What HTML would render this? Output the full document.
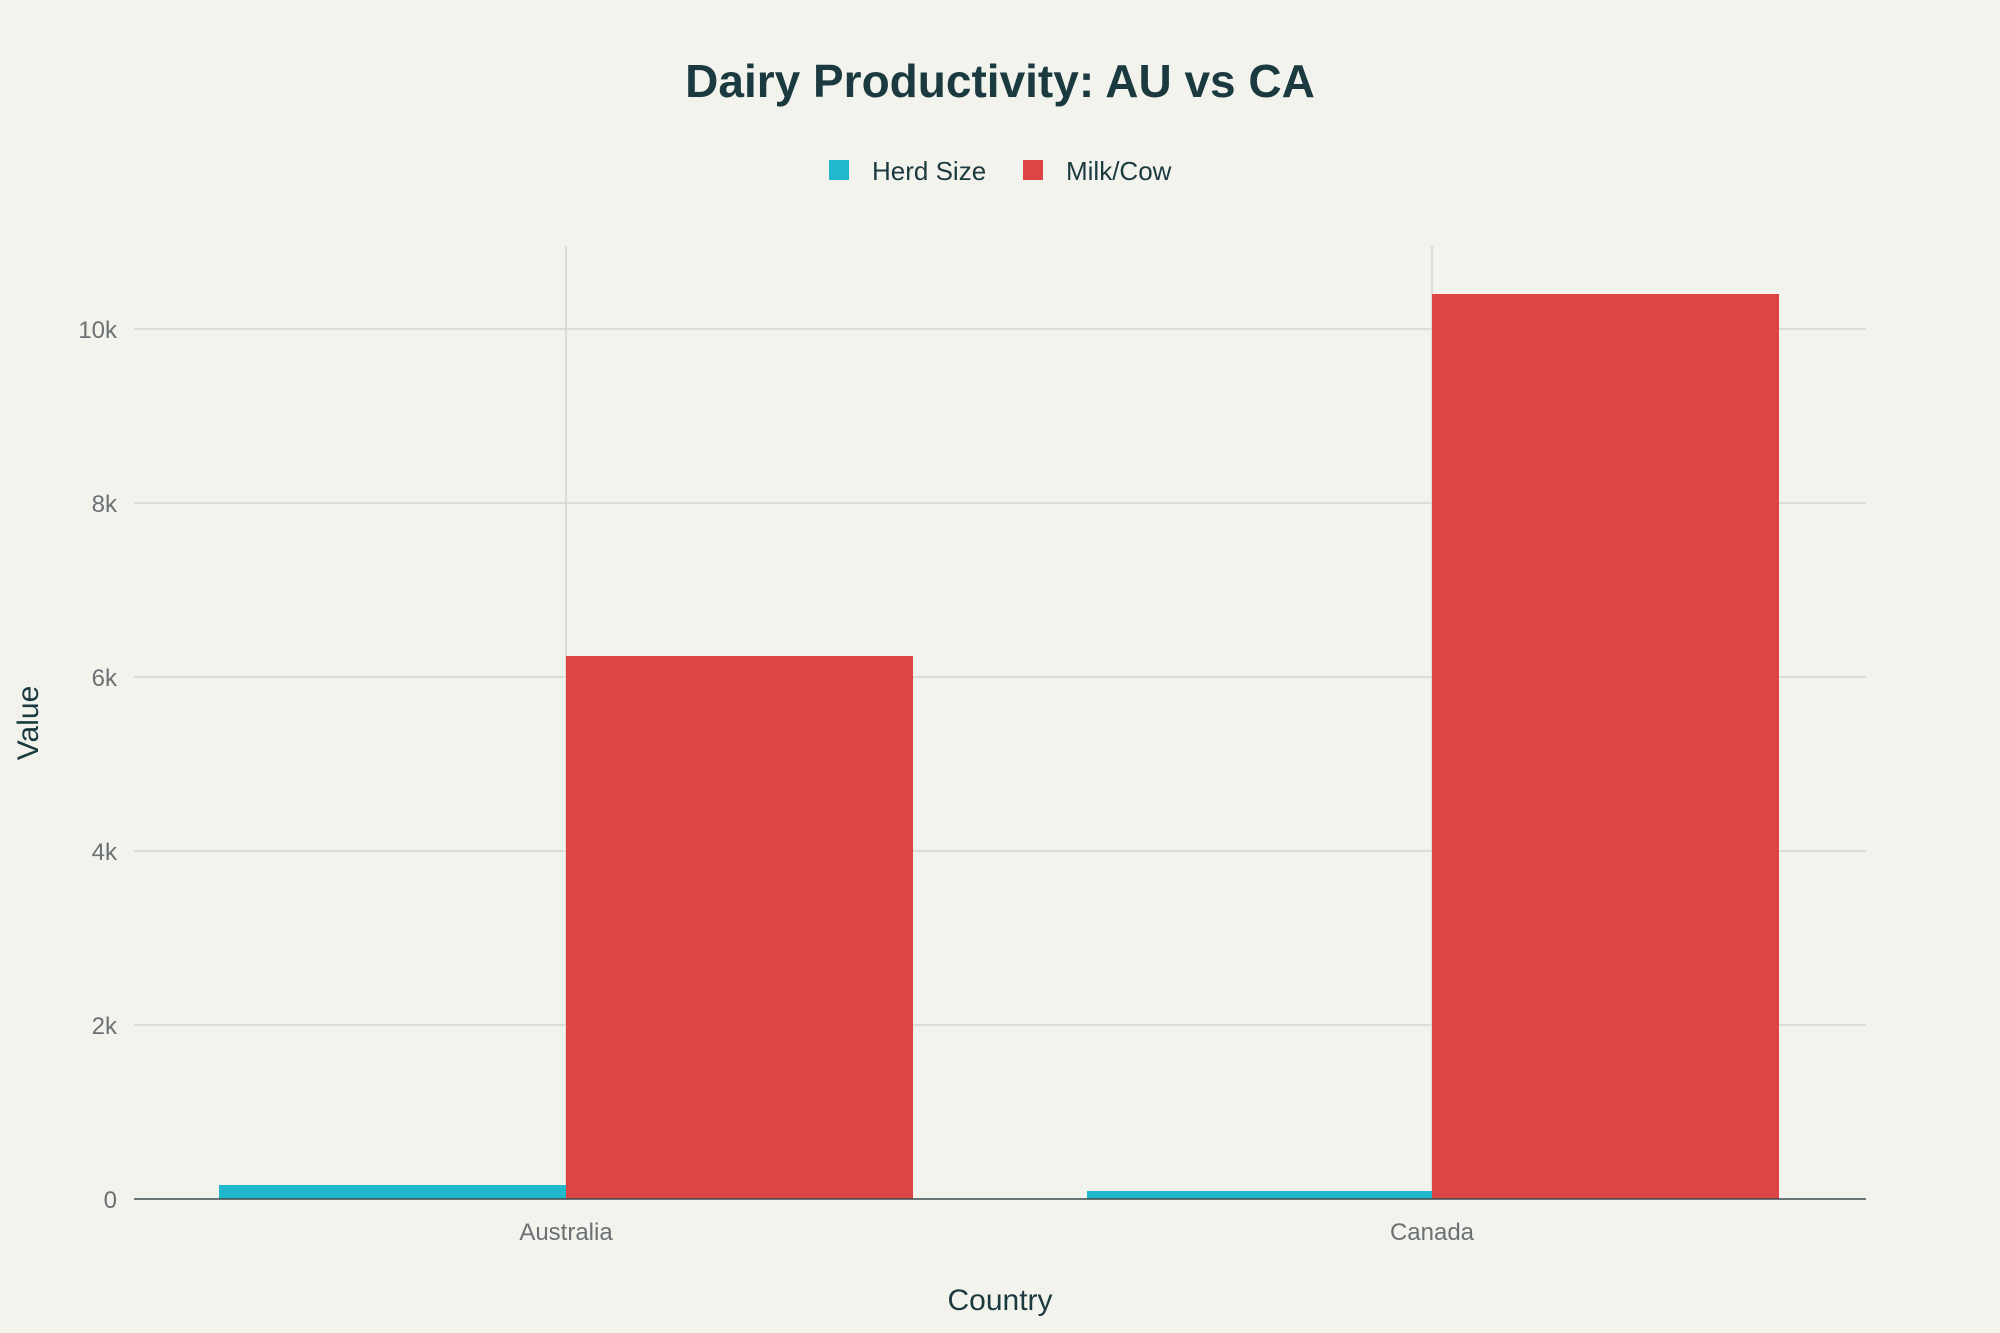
<!DOCTYPE html>
<html><head><meta charset="utf-8"><style>
html,body{margin:0;padding:0;background:#f3f3ee;}
svg{display:block;font-family:"Liberation Sans",sans-serif;}
</style></head><body>
<svg width="2000" height="1333" viewBox="0 0 2000 1333" xmlns="http://www.w3.org/2000/svg">
<rect width="2000" height="1333" fill="#f3f3ee"/>
<text x="1000" y="97" text-anchor="middle" font-size="46" font-weight="bold" fill="#1b3a3f">Dairy Productivity: AU vs CA</text>
<rect x="829" y="160" width="20" height="20" fill="#1fb8cd"/>
<text x="872" y="180" font-size="26" fill="#1b3a3f">Herd Size</text>
<rect x="1023" y="160" width="20" height="20" fill="#db4545"/>
<text x="1066" y="180" font-size="26" fill="#1b3a3f">Milk/Cow</text>
<g stroke="#d6d6d0" stroke-width="1.5">
<line x1="134" x2="1866" y1="329" y2="329"/>
<line x1="134" x2="1866" y1="503" y2="503"/>
<line x1="134" x2="1866" y1="677" y2="677"/>
<line x1="134" x2="1866" y1="851" y2="851"/>
<line x1="134" x2="1866" y1="1025" y2="1025"/>
<line x1="566" x2="566" y1="246" y2="1199"/>
<line x1="1432" x2="1432" y1="246" y2="1199"/>
</g>
<rect x="219" y="1185" width="347" height="14" fill="#1fb8cd"/>
<rect x="566" y="656" width="347" height="543" fill="#db4545"/>
<rect x="1087" y="1191" width="345" height="8" fill="#1fb8cd"/>
<rect x="1432" y="294" width="347" height="905" fill="#db4545"/>
<line x1="134" x2="1866" y1="1199" y2="1199" stroke="#3d4a4c" stroke-width="1.5"/>
<g font-size="24" fill="#6b7073" text-anchor="end">
<text x="117" y="1208">0</text>
<text x="117" y="1034">2k</text>
<text x="117" y="860">4k</text>
<text x="117" y="686">6k</text>
<text x="117" y="512">8k</text>
<text x="117" y="338">10k</text>
</g>
<g font-size="24" fill="#6b7073" text-anchor="middle">
<text x="566" y="1240">Australia</text>
<text x="1432" y="1240">Canada</text>
</g>
<text x="1000" y="1310" text-anchor="middle" font-size="30" fill="#1b3a3f">Country</text>
<text transform="translate(38,723) rotate(-90)" text-anchor="middle" font-size="30" fill="#1b3a3f">Value</text>
</svg>
</body></html>
